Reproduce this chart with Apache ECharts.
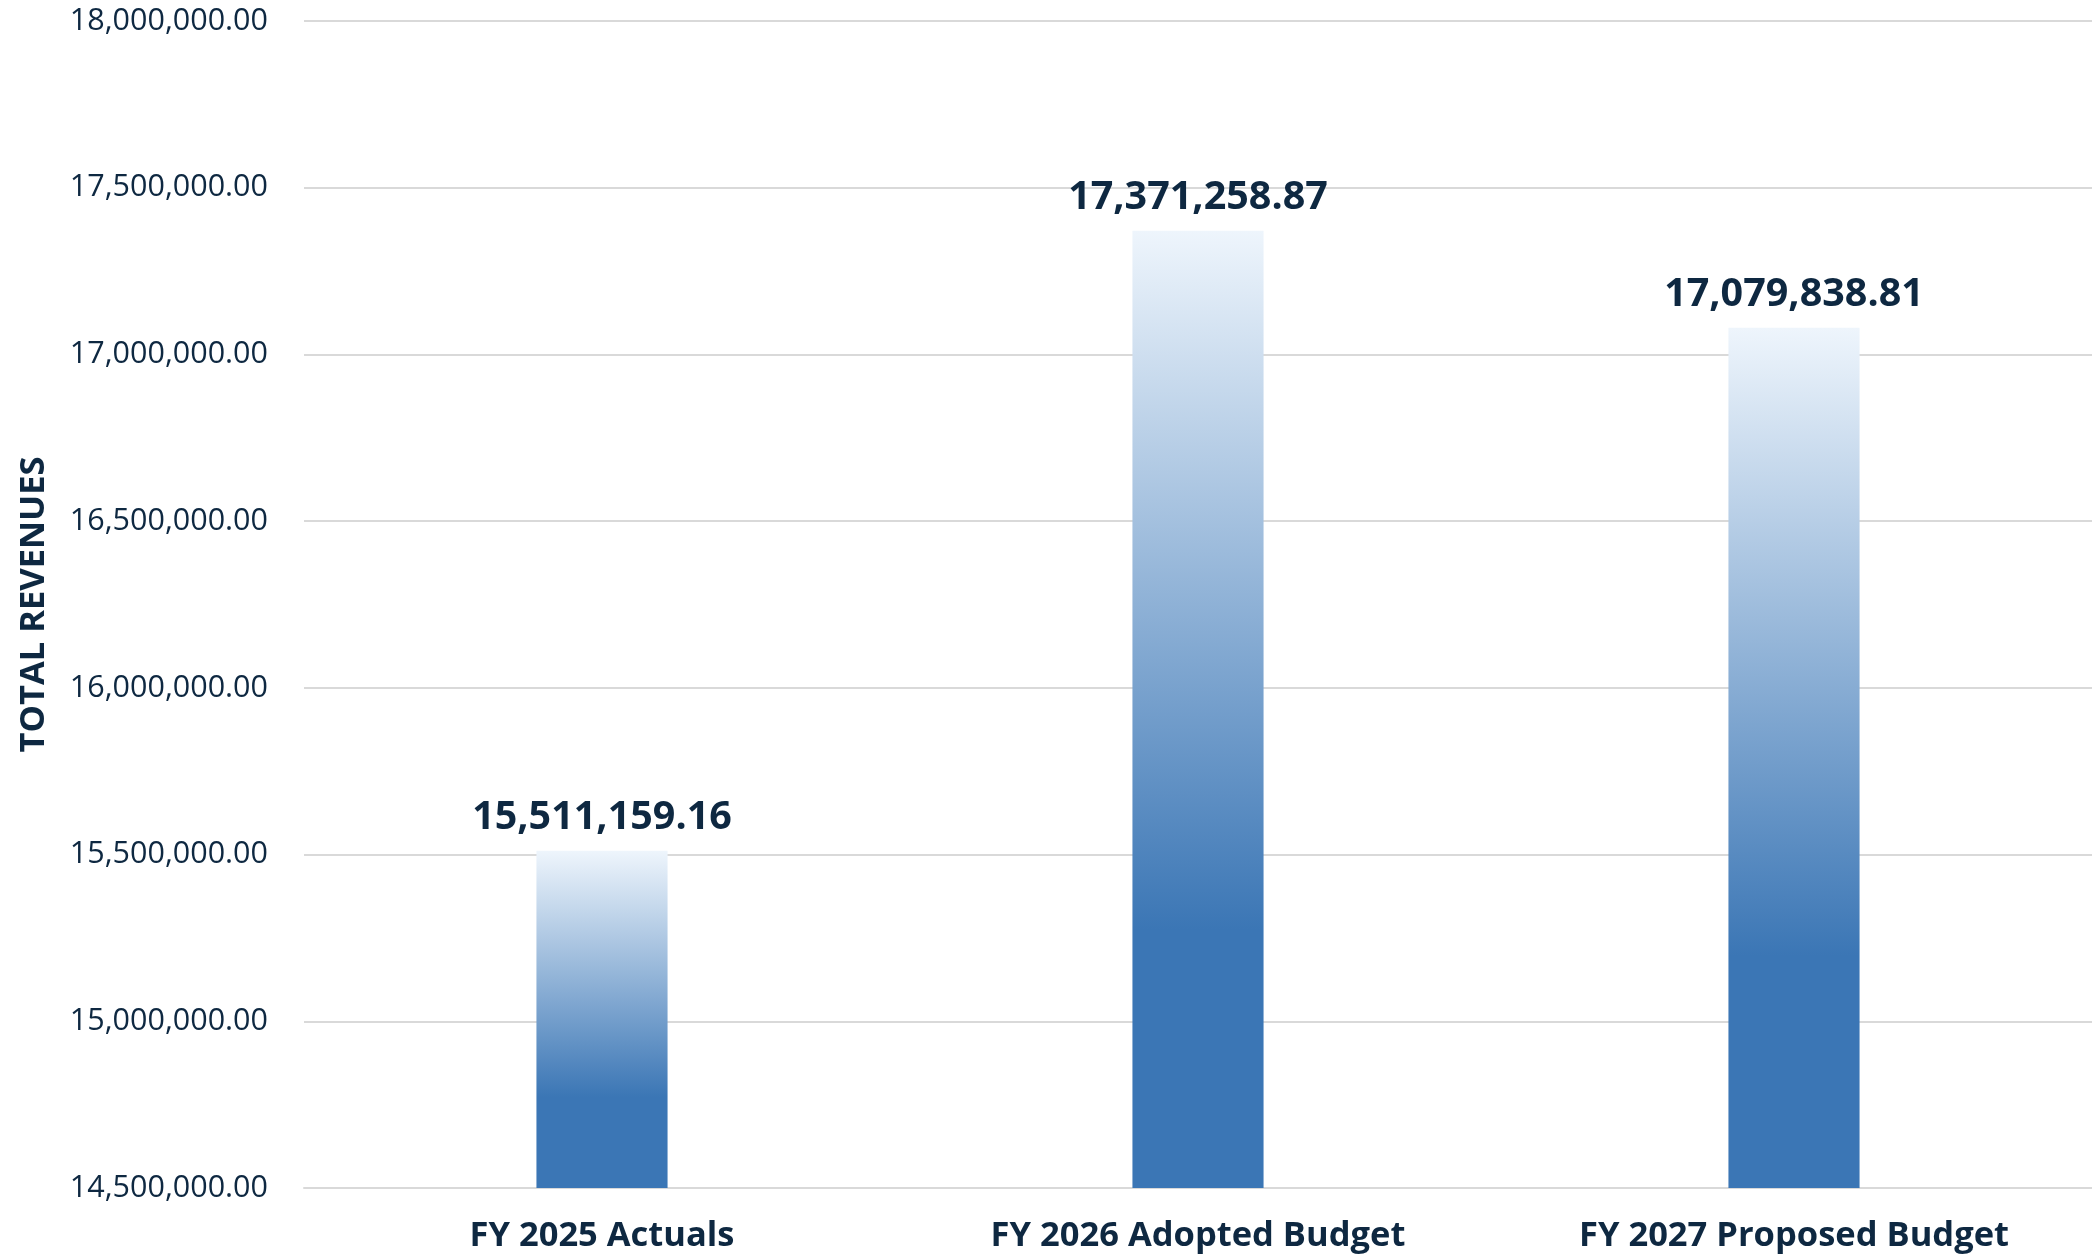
<!DOCTYPE html>
<html><head><meta charset="utf-8">
<script src="https://cdn.jsdelivr.net/npm/echarts@6/dist/echarts.min.js"></script>
<style>html,body{margin:0;padding:0;background:#fff;overflow:hidden}#c{width:2092px;height:1257px}</style>
</head><body><div id="c"></div>
<script>
const categories = ['FY 2025 Actuals', 'FY 2026 Adopted Budget', 'FY 2027 Proposed Budget'];
const revenues = [15511159.16, 17371258.87, 17079838.81];
const axisTitle = 'TOTAL REVENUES';
const yMin = 14500000, yMax = 18000000, yStep = 500000;

const navy = '#0e2841';
const fmt = v => v.toLocaleString('en-US', {minimumFractionDigits: 2, maximumFractionDigits: 2});
const chart = echarts.init(document.getElementById('c'));
chart.setOption({
  animation: false,
  grid: {left: 304, right: 0, top: 21, bottom: 69, containLabel: false, outerBoundsMode: 'none'},
  xAxis: {
    type: 'category', data: categories,
    axisLine: {lineStyle: {color: '#d9d9d9', width: 2}},
    axisTick: {show: false},
    axisLabel: {color: navy, fontFamily: 'Open Sans', fontWeight: 'bold', fontSize: 34.5, margin: 31}
  },
  yAxis: {
    type: 'value', min: yMin, max: yMax, interval: yStep,
    name: axisTitle, nameLocation: 'middle', nameGap: 252, nameRotate: 90,
    nameTextStyle: {color: navy, fontFamily: 'Open Sans', fontWeight: 'bold', fontSize: 34.5},
    axisLine: {show: false}, axisTick: {show: false},
    splitLine: {lineStyle: {color: '#d9d9d9', width: 2}},
    axisLabel: {color: navy, fontFamily: 'Open Sans', fontSize: 30.5, margin: 36, formatter: v => fmt(v)}
  },
  series: [{
    type: 'bar', data: revenues, barWidth: '22%',
    itemStyle: {color: new echarts.graphic.LinearGradient(0, 0, 0, 1, [
      {offset: 0, color: '#eef5fc'}, {offset: 0.73, color: '#3b76b5'}, {offset: 1, color: '#3b76b5'}])},
    label: {show: true, position: 'top', distance: 13, color: navy, fontFamily: 'Open Sans',
      fontWeight: 'bold', fontSize: 39.5, formatter: p => fmt(p.value)}
  }]
});
</script></body></html>
